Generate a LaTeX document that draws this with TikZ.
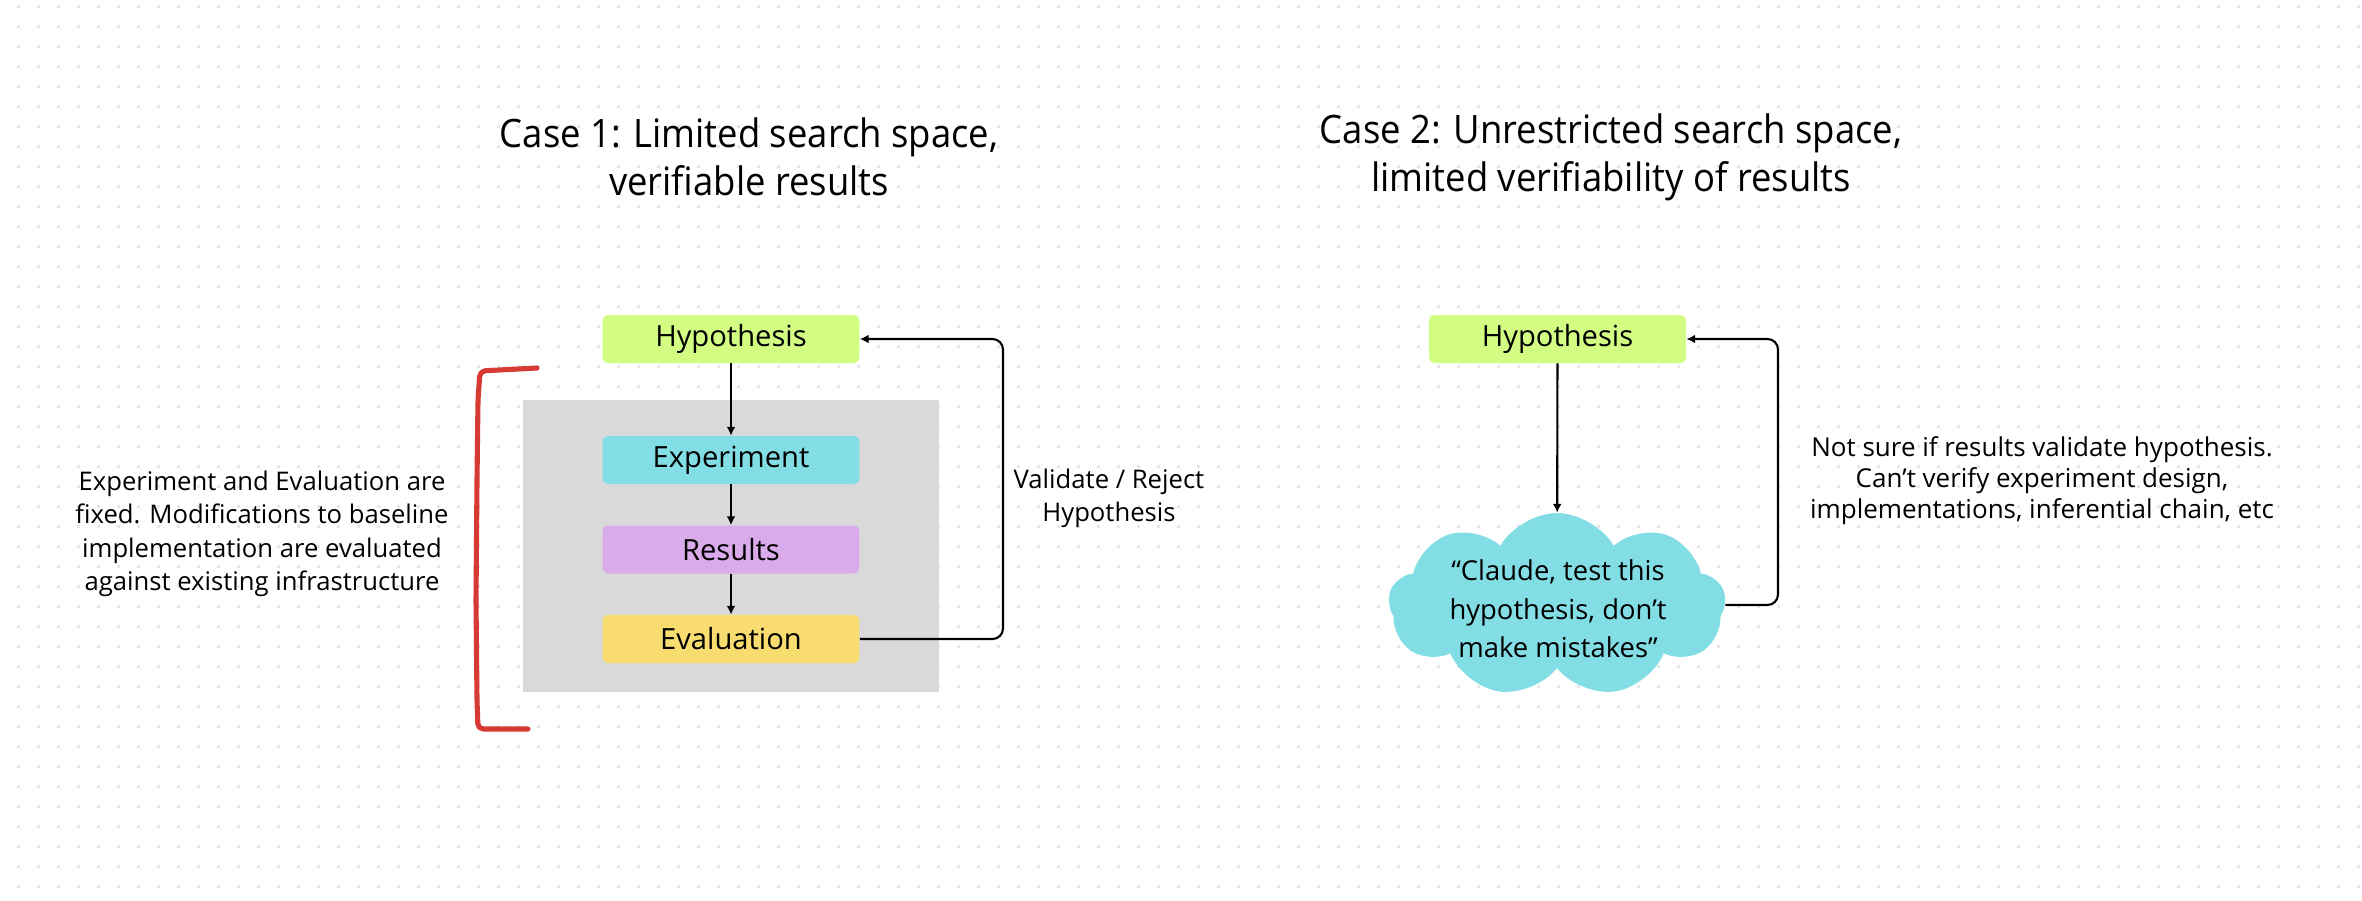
\documentclass[tikz,border=0pt]{standalone}
\usepackage{fontspec}
\setmainfont{Open Sans}
\newfontfamily\titlefont[FakeStretch=0.93]{Open Sans}
\usetikzlibrary{arrows.meta,shapes.symbols}
\definecolor{hypGreen}{HTML}{D2FC82}
\definecolor{expCyan}{HTML}{82DDE5}
\definecolor{resPurple}{HTML}{DAABEB}
\definecolor{evYellow}{HTML}{F8DC70}
\definecolor{fixGray}{HTML}{D9D9D9}
\definecolor{brkRed}{HTML}{D63B33}
\definecolor{dotGray}{HTML}{E6E6EC}

\begin{document}
\begin{tikzpicture}[x=0.02cm,y=-0.02cm,
  bx/.style={rounded corners=3pt,inner sep=0pt,
             minimum width=5.14cm,minimum height=0.96cm,
             font=\fontsize{16.6}{19}\selectfont,text=black},
  ttl/.style={align=center,font=\titlefont\fontsize{22.3}{27.3}\selectfont},
  note/.style={align=center,font=\fontsize{14.6}{19}\selectfont},
  cld/.style={cloud,cloud puffs=9,cloud puff arc=120,cloud ignores aspect,
              fill=expCyan,inner sep=0pt,minimum width=6.74cm,minimum height=3.68cm},
  a/.style={-{Latex[length=5pt,width=5pt]},line width=1.2pt,rounded corners=6pt},
  brk/.style={draw=brkRed,line width=2.9pt,line cap=round,line join=round,rounded corners=3pt}]
  \useasboundingbox (0,0) rectangle (2362,900);
  \fill[white] (0,0) rectangle (2362,900);
  \foreach \gx in {0,...,117}{
    \foreach \gy in {0,...,44}{
      \fill[dotGray] (17+20*\gx,5+20*\gy) rectangle ++(3,3);}}

  % case 1
  \node[ttl] (ttlA) at (749,157) {Case 1: Limited search space,\\verifiable results};
  \node[fill=fixGray,inner sep=0pt,minimum width=8.32cm,minimum height=5.86cm] (fixA) at (731,546) {};
  \node[bx,fill=hypGreen]  (hypA) at (731,339)   {Hypothesis};
  \node[bx,fill=expCyan]   (expA) at (731,460)   {Experiment};
  \node[bx,fill=resPurple] (resA) at (731,549.5) {Results};
  \node[bx,fill=evYellow]  (evA)  at (731,639)   {Evaluation};
  \coordinate (loopA) at (1003,339);
  \draw[a] (hypA) -- (expA);
  \draw[a] (expA) -- (resA);
  \draw[a] (resA) -- (evA);
  \draw[a] (evA.east) -| (loopA) -- (hypA.east);
  \node[note,font=\fontsize{14.6}{18.8}\selectfont] (valA) at (1109,498.5) {Validate / Reject\\Hypothesis};
  \draw[brk] (537,368) -- (480,371) -- (478,400) -- (477,480) -- (476,600)
    -- (477,700) -- (478,729) -- (528,729);
  \node[note] (fixNote) at (262,534) {Experiment and Evaluation are\\fixed. Modifications to baseline\\implementation are evaluated\\against existing infrastructure};

  % case 2
  \node[ttl] (ttlB) at (1611,157) {Case 2: Unrestricted search space,\\limited verifiability of results};
  \node[bx,fill=hypGreen] (hypB) at (1557.5,339) {Hypothesis};
  \node[cld] (cl) at (1557,605) {};
  \node[align=center,font=\fontsize{15.6}{21.9}\selectfont] (clTxt) at (1558,609)
    {“Claude, test this\\hypothesis, don’t\\make mistakes”};
  \coordinate (loopB) at (1778,339);
  \draw[a] (hypB) -- (cl);
  \draw[a] (cl.east) -| (loopB) -- (hypB.east);
  \node[note,font=\fontsize{14.8}{17.6}\selectfont] (unsure) at (2042,481)
    {Not sure if results validate hypothesis.\\Can’t verify experiment design,\\implementations, inferential chain, etc};
\end{tikzpicture}
\end{document}
